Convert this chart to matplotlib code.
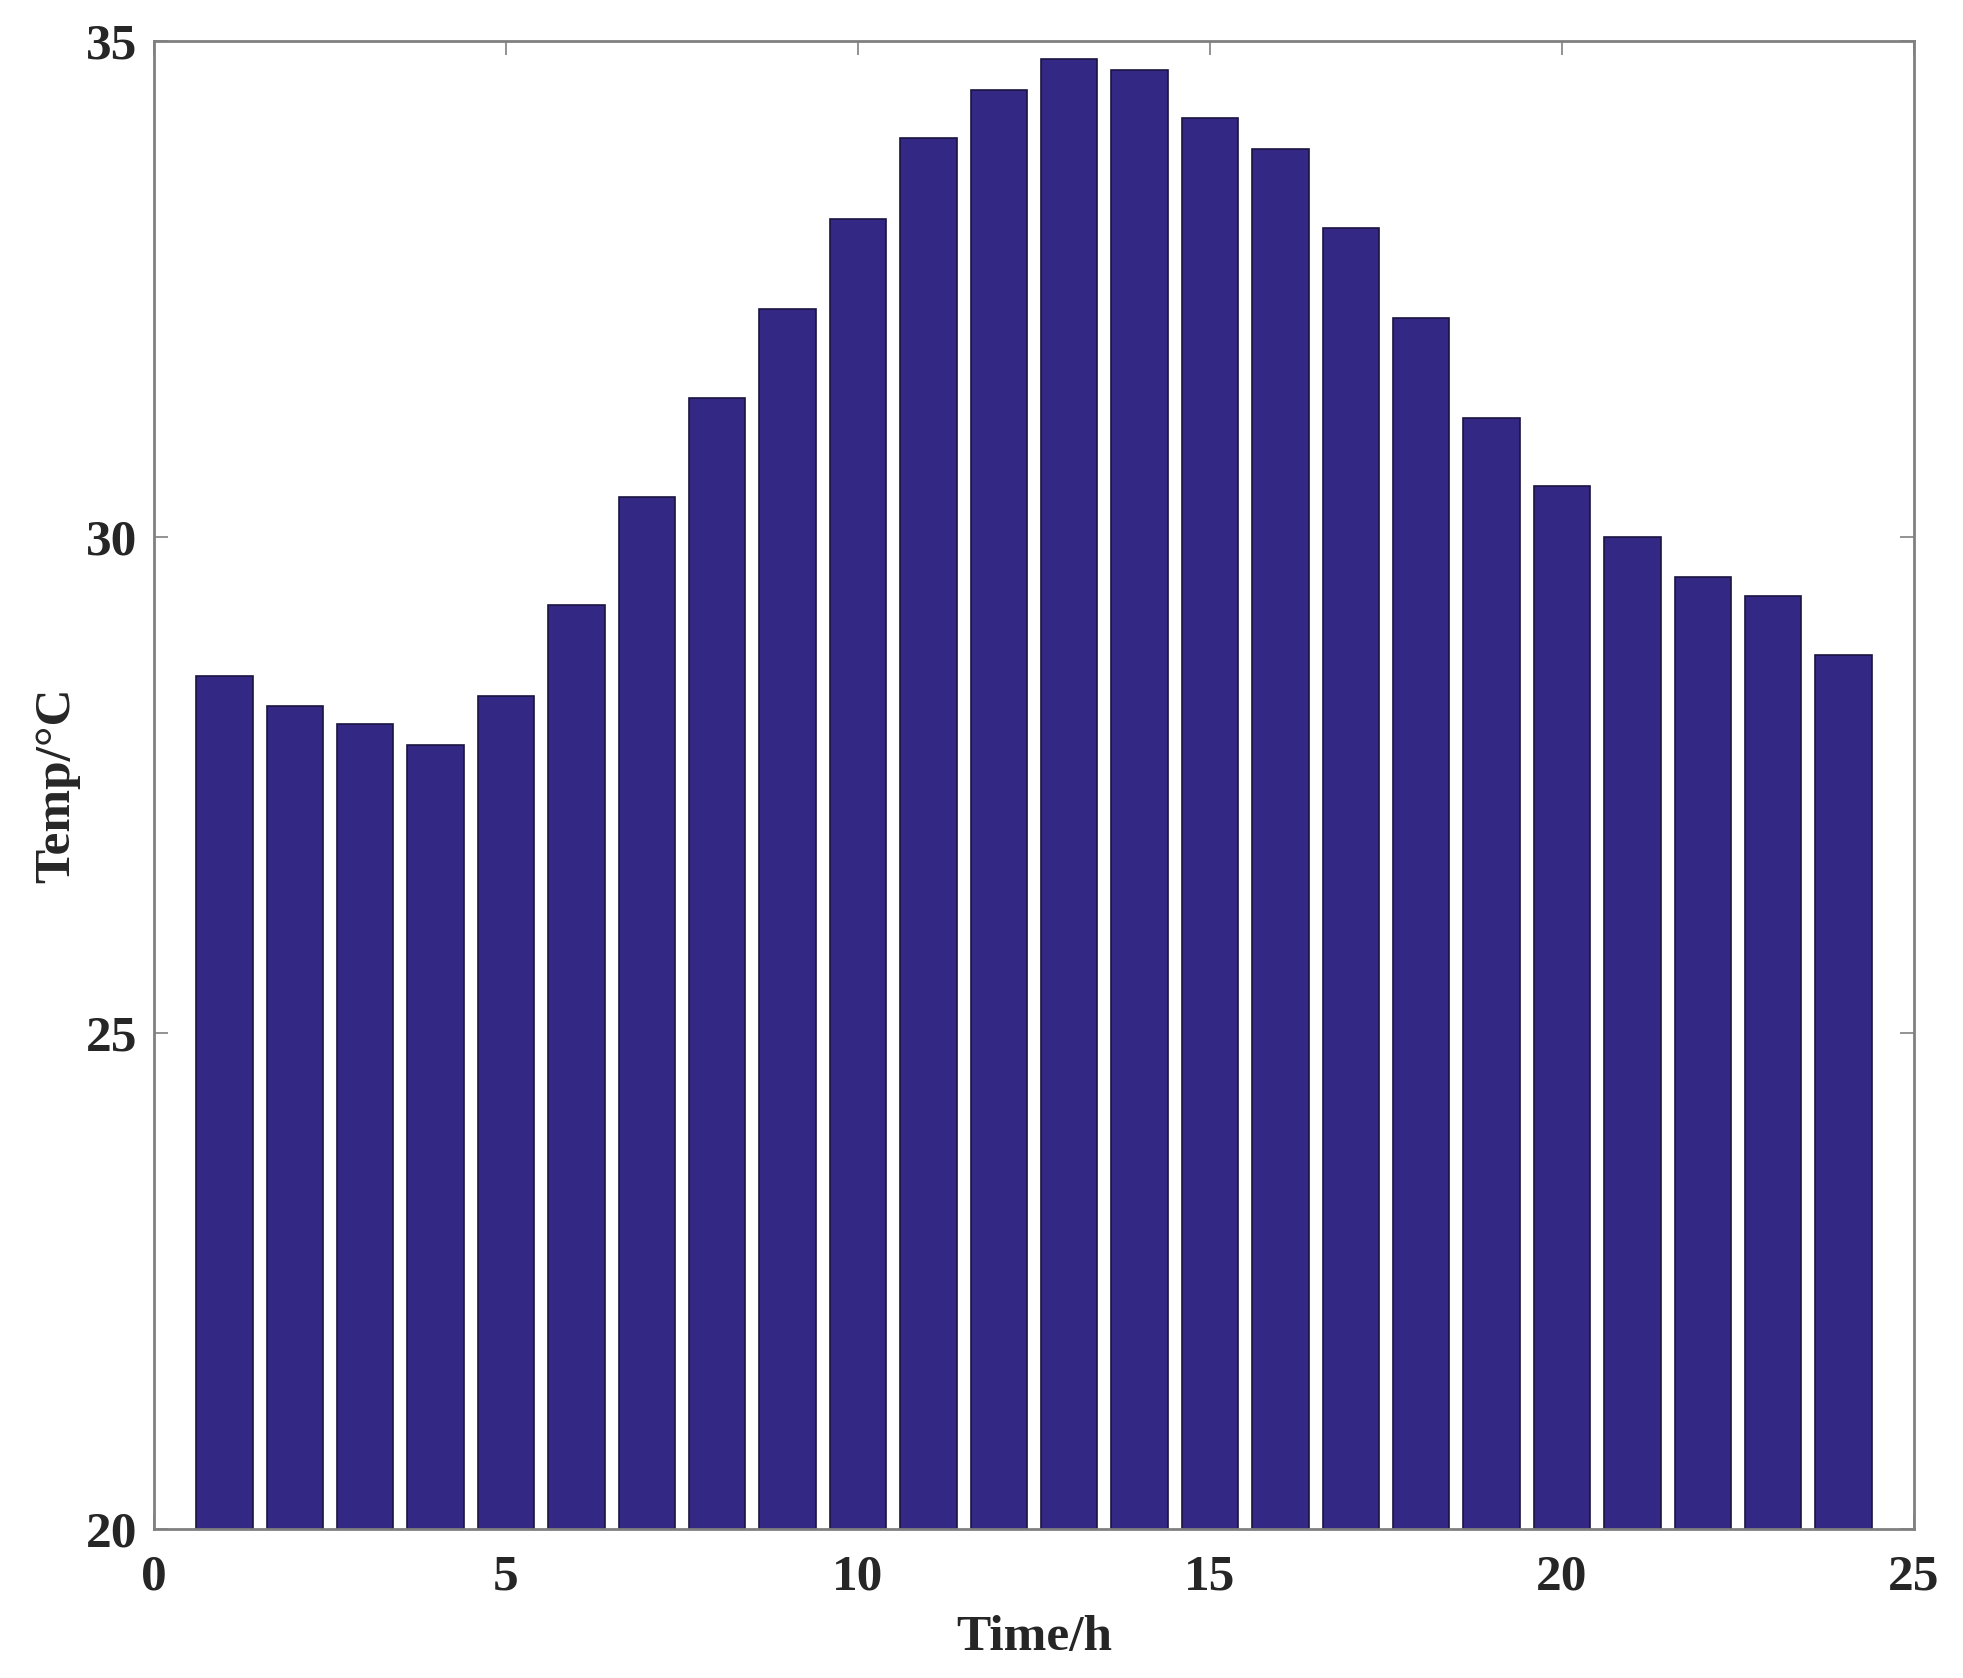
import numpy as np
import matplotlib
matplotlib.use("Agg")
import matplotlib.pyplot as plt

hours = np.arange(1, 25)
temps = [28.60, 28.30, 28.11, 27.90, 28.40, 29.31, 30.40, 31.40, 32.30, 33.21,
         34.02, 34.51, 34.82, 34.71, 34.22, 33.91, 33.11, 32.21, 31.20, 30.51,
         30.00, 29.60, 29.41, 28.81]
xticks = [0, 5, 10, 15, 20, 25]
yticks = [20, 25, 30, 35]

plt.rcParams['font.family'] = ['Liberation Serif', 'DejaVu Serif']
plt.rcParams['font.weight'] = 'bold'

fig = plt.figure(figsize=(19.63, 16.78), dpi=100)
ax = fig.add_axes([154/1963, 1-1529/1678, (1914-154)/1963, (1529-41)/1678])

ax.bar(hours, np.array(temps) - 20, bottom=20, width=0.8,
       color='#332883', edgecolor='#1a1440', linewidth=1.2, zorder=2)

ax.set_xlim(0, 25)
ax.set_ylim(20, 35)
ax.set_xticks(xticks)
ax.set_yticks(yticks)
ax.tick_params(direction='in', top=True, right=True, length=10, width=1.2,
               color='#808080', labelsize=37)
ax.tick_params(axis='x', pad=18)
ax.tick_params(axis='y', pad=12)
for lab in ax.get_xticklabels() + ax.get_yticklabels():
    lab.set_fontweight('bold')
    lab.set_color('#262626')
for s in ax.spines.values():
    s.set_color('#808080')
    s.set_linewidth(2)

ax.set_xlabel('Time/h', fontsize=37, fontweight='bold', color='#262626')
ax.set_ylabel('Temp/°C', fontsize=37, fontweight='bold', color='#262626')
ax.xaxis.set_label_coords(0.5, -0.058)
ax.yaxis.set_label_coords(-0.042, 0.5)

fig.savefig('out.png', dpi=100, facecolor='white')
